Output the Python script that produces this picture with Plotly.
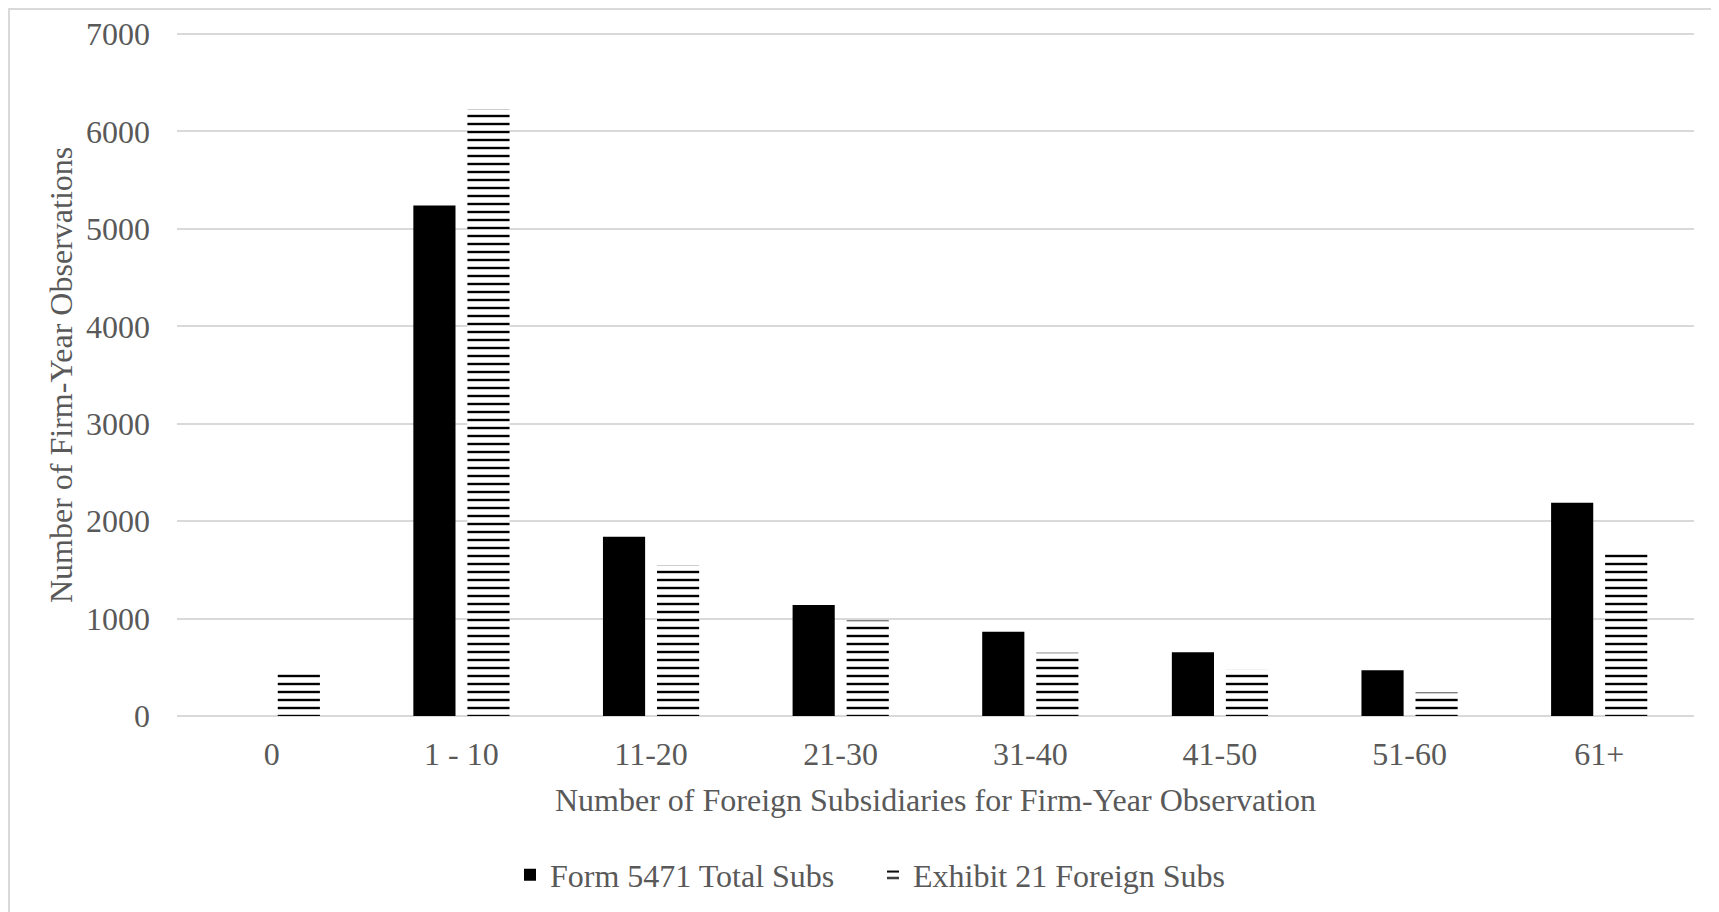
import plotly.graph_objects as go

categories = ["0", "1 - 10", "11-20", "21-30", "31-40", "41-50", "51-60", "61+"]
form_5471 = [0, 5240, 1840, 1140, 865, 655, 470, 2190]
exhibit_21 = [470, 6230, 1550, 980, 650, 475, 240, 1700]
y_ticks = [0, 1000, 2000, 3000, 4000, 5000, 6000, 7000]

# page has an 8px body margin; figure coordinates = page coordinates - 8
OFF = 8
W, H = 1711, 904
L, R, T, B = 169, 25, 24, 196
pw, ph = W - L - R, H - T - B

FONT = "Liberation Serif"
GREY = "#595959"
GRID = "#d9d9d9"

def px_x(page_x):
    return (page_x - OFF - L) / pw

def px_y(page_y):
    return (H - B - (page_y - OFF)) / ph

fig = go.Figure()
fig.add_trace(go.Bar(
    x=categories, y=form_5471, name="Form 5471 Total Subs",
    marker=dict(color="black", line=dict(width=0)),
))
fig.add_trace(go.Bar(
    x=categories, y=exhibit_21, name="Exhibit 21 Foreign Subs",
    marker=dict(color="white", line=dict(width=0),
                pattern=dict(shape="-", size=8, solidity=0.3,
                             fgcolor="black", bgcolor="white", fillmode="replace")),
))

fig.update_layout(
    width=W, height=H,
    margin=dict(l=L, r=R, t=T, b=B, autoexpand=False),
    paper_bgcolor="white", plot_bgcolor="white",
    barmode="group", bargap=0.43, bargroupgap=0.22,
    font=dict(family=FONT, size=32, color=GREY),
    showlegend=True,
    legend=dict(orientation="h", x=px_x(510), xanchor="left",
                y=px_y(875), yanchor="middle",
                font=dict(family=FONT, size=32, color=GREY),
                entrywidth=318, bgcolor="rgba(0,0,0,0)"),
    xaxis=dict(showgrid=False, showline=False, ticks="", automargin=False,
               ticklabelstandoff=16,
               tickfont=dict(family=FONT, size=32, color=GREY)),
    yaxis=dict(range=[0, 7021], tickvals=y_ticks, showgrid=True, gridcolor=GRID,
               gridwidth=2, zeroline=True, zerolinecolor=GRID, zerolinewidth=2,
               showline=False, ticks="", automargin=False, ticklabelstandoff=26,
               tickfont=dict(family=FONT, size=32, color=GREY)),
    annotations=[
        dict(text="Number of Firm-Year Observations", xref="paper", yref="paper",
             x=px_x(61), y=px_y(375), textangle=-90, showarrow=False,
             xanchor="center", yanchor="middle",
             font=dict(family=FONT, size=32, color=GREY)),
        dict(text="Number of Foreign Subsidiaries for Firm-Year Observation",
             xref="paper", yref="paper", x=0.5, y=px_y(800), showarrow=False,
             xanchor="center", yanchor="middle",
             font=dict(family=FONT, size=32, color=GREY)),
    ],
    shapes=[
        dict(type="rect", xref="paper", yref="paper",
             x0=px_x(9), x1=px_x(1760), y0=px_y(960), y1=px_y(9),
             line=dict(color=GRID, width=2), fillcolor="rgba(0,0,0,0)", layer="below"),
    ],
)

fig.write_html("out.html")
